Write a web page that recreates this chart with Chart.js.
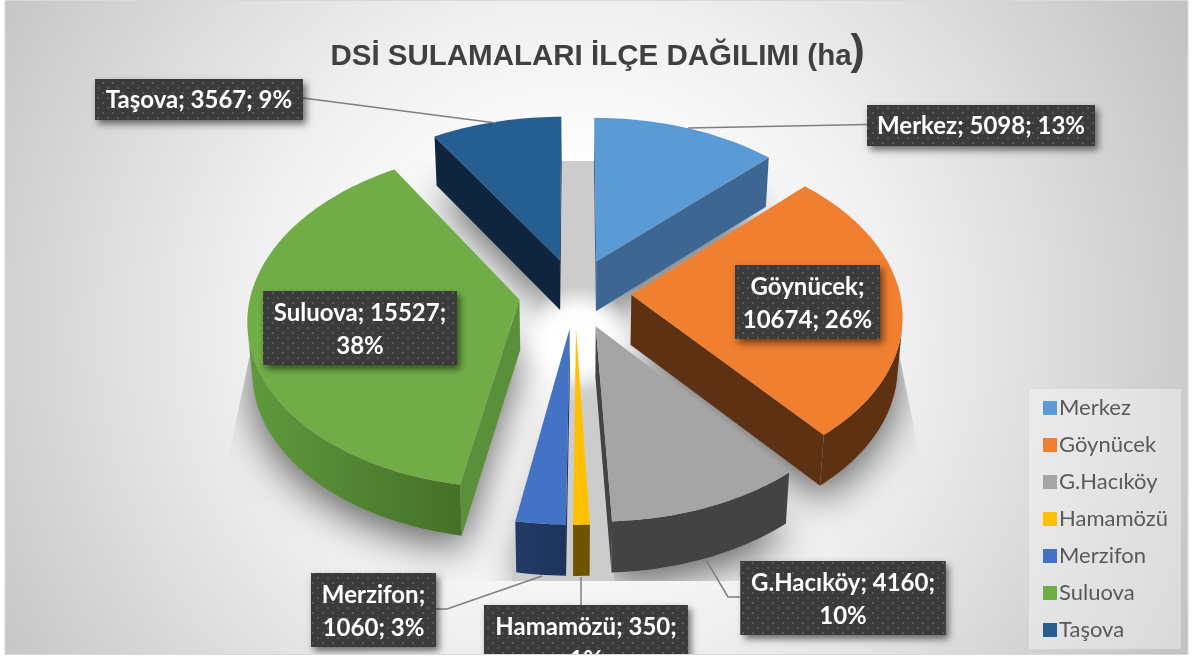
<!DOCTYPE html>
<html><head><meta charset="utf-8">
<style>html,body{margin:0;padding:0;background:#fff}canvas{display:block}</style>
<script src="https://cdn.jsdelivr.net/npm/chart.js@4/dist/chart.umd.min.js"></script>
</head><body><canvas id="c" width="1194" height="659"></canvas>
<script>
const categories = ['Merkez','Göynücek','G.Hacıköy','Hamamözü','Merzifon','Suluova','Taşova'];
const legendNames = ['Merkez','Göynücek','G.Hacıköy','Hamamözü','Merzifon','Suluova','Taşova'];
const hectares = [5098,10674,4160,350,1060,15527,3567];
const topColors = ['#5B9BD5','#F07F30','#A5A5A5','#FFC000','#4472C4','#70AD47','#255E91'];
const faceColors = ['#3D6792','#5E3112','#434343','#6F5400','#203864','#5A8F3C','#0F243D'];
const rimLeft = ['#3D6792','#5E3112','#434343','#6F5400','#223B69','#5F9A3E','#0F243D'];
const rimRight = ['#3D6792','#5E3112','#434343','#6F5400','#1C3358','#3E6422','#0F243D'];
const firstLineParts = [3,1,2,2,1,2,3];
const boxLeft = [867,735,740.5,484,311,263,95];
const boxTop = [105,265,561,605,573,291,79];
const boxWidth = [228,145,205,204,125,194,208];
const boxHeight = [41,74,74,74,74,74,41];
const leaders = [[[867,124.5],[688,128]],null,[[740,597],[728,597],[706,560]],[[581,605],[581,577]],[[436,609],[447,609],[542,576]],null,[[303,98],[496,123]]];
const view = {cx:575, cy:293, sx:268.5, sy:166, persp:.11, drop:50, conv:.985};
const explodeShare = 0.095;
const labelFont = 'bold 24px Lato';

function project(nx, ny, low){
  const g = 1/(1-view.persp*ny);
  let x = view.cx+view.sx*nx*g, y = view.cy+view.sy*ny*g;
  if(low){ x = view.cx+(x-view.cx)*view.conv; y += view.drop*(1+.02*ny); }
  return [x,y];
}
function trace(ctx, pts){ ctx.beginPath(); pts.forEach((p,i)=> i?ctx.lineTo(p[0],p[1]):ctx.moveTo(p[0],p[1])); ctx.closePath(); }
function area(pts){ let s=0; pts.forEach((p,i)=>{const q=pts[(i+1)%pts.length]; s+=p[0]*q[1]-q[0]*p[1];}); return s; }
function sliceRing(arc){
  const {startAngle:a0,endAngle:a1,outerRadius:R} = arc.getProps(['startAngle','endAngle','outerRadius'],true);
  const e = arc.options.offset/R, m=(a0+a1)/2, ox=e*Math.cos(m), oy=e*Math.sin(m);
  const n = Math.max(3,Math.round((a1-a0)*40));
  const ring=[[ox,oy]];
  for(let i=0;i<=n;i++){ const a=a0+(a1-a0)*i/n; ring.push([ox+Math.cos(a),oy+Math.sin(a)]); }
  return {ring,my:Math.sin(m)};
}
function drawBackground(ctx){
  ctx.fillStyle='#fff'; ctx.fillRect(0,0,1194,659);
  const g=ctx.createRadialGradient(575,330,0,575,330,690);
  g.addColorStop(0,'#ffffff'); g.addColorStop(.22,'#ffffff'); g.addColorStop(.47,'#f0f0f0');
  g.addColorStop(.84,'#d0d0d0'); g.addColorStop(1,'#c2c2c2');
  ctx.fillStyle=g; ctx.fillRect(5,1,1183,653);
  ctx.strokeStyle='#d9d9d9'; ctx.lineWidth=1; ctx.strokeRect(5,.5,1183,654);
}
const pie3d = {
  id:'pie3d',
  beforeDraw(chart){
    const ctx=chart.ctx; ctx.save(); drawBackground(ctx);
    ctx.fillStyle='rgba(255,255,255,.38)';
    ctx.fillRect(chart.legend.right+3-152,389,152,260);
    ctx.restore();
  },
  beforeDatasetDraw(chart,args){
    const ctx=chart.ctx, meta=args.meta;
    const slices=meta.data.map((arc,i)=>({i,...sliceRing(arc)}));
    ctx.save();
    ctx.beginPath(); ctx.moveTo(291,161); ctx.lineTo(860,161); ctx.lineTo(945,581); ctx.lineTo(202,581); ctx.closePath(); ctx.clip();
    slices.forEach(s=>{
      ctx.save(); ctx.shadowColor='rgba(0,0,0,.62)'; ctx.shadowBlur=40; ctx.shadowOffsetY=12;
      ctx.fillStyle='#bbb'; trace(ctx,s.ring.map(p=>project(p[0],p[1],true))); ctx.fill(); ctx.restore();
    });
    // grey seen through the central gaps
    ctx.fillStyle='#cccccc'; ctx.fillRect(552,161,50,165);
    const under=ctx.createLinearGradient(0,350,0,405);
    under.addColorStop(0,'rgba(204,204,204,0)'); under.addColorStop(1,'rgba(204,204,204,1)');
    ctx.fillStyle=under; trace(ctx,[[568,350],[610,350],[614,581],[512,581],[518,522]]); ctx.fill();
    const w=ctx.createRadialGradient(578,338,6,578,338,52);
    w.addColorStop(0,'#fff'); w.addColorStop(.5,'rgba(255,255,255,.95)'); w.addColorStop(1,'rgba(255,255,255,0)');
    ctx.fillStyle=w; ctx.fillRect(500,270,160,140);
    ctx.restore();
    slices.sort((a,b)=>a.my-b.my).forEach(s=>{
      const top=s.ring.map(p=>project(p[0],p[1],false)), low=s.ring.map(p=>project(p[0],p[1],true));
      const N=top.length, xs=top.map(p=>p[0]);
      const rim=ctx.createLinearGradient(Math.min(...xs),0,Math.max(...xs),0);
      rim.addColorStop(0,rimLeft[s.i]); rim.addColorStop(1,rimRight[s.i]);
      [0,N-1].forEach(k=>{
        const j=(k+1)%N, q=[top[k],top[j],low[j],low[k]];
        if(area(q)<0){ ctx.fillStyle=faceColors[s.i]; trace(ctx,q); ctx.fill(); }
      });
      let run=[];
      const flush=()=>{ if(run.length){ const idx=[run[0],...run.map(k=>k+1)];
        const poly=[...idx.map(k=>top[k]),...idx.slice().reverse().map(k=>low[k])];
        ctx.fillStyle=rim; trace(ctx,poly); ctx.fill(); run=[]; } };
      for(let k=1;k<N-1;k++){
        const q=[top[k],top[k+1],low[k+1],low[k]];
        if(area(q)<0) run.push(k); else flush();
      }
      flush();
      ctx.fillStyle=topColors[s.i]; trace(ctx,top); ctx.fill();
    });
    return false;
  },
  afterDraw(chart){
    const ctx=chart.ctx, t=chart.titleBlock, tf=chart.options.plugins.title.font;
    const total=hectares.reduce((a,b)=>a+b,0);
    ctx.save();
    ctx.font=tf.weight+' '+tf.size+'px "Liberation Sans"';
    const tw=ctx.measureText(chart.options.plugins.title.text).width;
    ctx.font='bold 43px "Liberation Sans"'; ctx.fillStyle='#404040'; ctx.textBaseline='alphabetic'; ctx.textAlign='left';
    ctx.fillText(')',t.left+(t.right-t.left)/2+tw/2-1,64);
    ctx.restore();
    chart.legend.legendHitBoxes.forEach((h,i)=>{ ctx.fillStyle=topColors[i]; ctx.fillRect(h.left,h.top+h.height/2-7,14,14); });
    const pc=document.createElement('canvas'); pc.width=pc.height=10;
    const px=pc.getContext('2d'); px.fillStyle='#3b3b3b'; px.fillRect(0,0,10,10);
    px.fillStyle='#565656'; px.fillRect(2,2,2,2); px.fillRect(7,7,2,2);
    const pat=ctx.createPattern(pc,'repeat');
    ctx.save();
    ctx.beginPath(); ctx.rect(0,0,1194,654); ctx.clip();
    ctx.strokeStyle='#7f7f7f'; ctx.lineWidth=1.5;
    leaders.forEach(l=>{ if(!l) return; ctx.beginPath(); l.forEach((p,i)=> i?ctx.lineTo(p[0],p[1]):ctx.moveTo(p[0],p[1])); ctx.stroke(); });
    categories.forEach((c,i)=>{
      const x=boxLeft[i],y=boxTop[i],w=boxWidth[i],h=boxHeight[i];
      ctx.save(); ctx.shadowColor='rgba(0,0,0,.55)'; ctx.shadowBlur=7; ctx.shadowOffsetX=3; ctx.shadowOffsetY=4;
      ctx.fillStyle='#3b3b3b'; ctx.fillRect(x,y,w,h); ctx.restore();
      ctx.fillStyle=pat; ctx.fillRect(x,y,w,h);
      const parts=[c,String(hectares[i]),Math.round(hectares[i]/total*100)+'%'];
      const first=parts.slice(0,firstLineParts[i]).join('; ')+(firstLineParts[i]<3?';':'');
      const second=parts.slice(firstLineParts[i]).join('; ');
      ctx.fillStyle='#fff'; ctx.font=labelFont; ctx.textAlign='center'; ctx.textBaseline='middle';
      if(second){ ctx.fillText(first,x+w/2,y+22); ctx.fillText(second,x+w/2,y+55); }
      else ctx.fillText(first,x+w/2,y+21);
    });
    ctx.restore();
  }
};
new Chart(document.getElementById('c'),{
  type:'pie',
  plugins:[pie3d],
  data:{labels:legendNames,datasets:[{data:hectares,backgroundColor:topColors,borderWidth:0,
    offset:c=>c.chart.chartArea?c.chart.chartArea.height*explodeShare:50}]},
  options:{responsive:false,animation:false,devicePixelRatio:1,
    layout:{padding:{left:4,right:16,bottom:3}},
    plugins:{
      tooltip:{enabled:false},
      title:{display:true,text:'DSİ SULAMALARI İLÇE DAĞILIMI (ha',color:'#404040',
        font:{family:'"Liberation Sans"',size:29.5,weight:'bold'},padding:{top:39,bottom:5}},
      legend:{display:true,position:'right',align:'end',
        labels:{boxWidth:5,boxHeight:14,padding:15,color:'#595959',font:{family:'Lato',size:22}}}
    }}
});
</script></body></html>
